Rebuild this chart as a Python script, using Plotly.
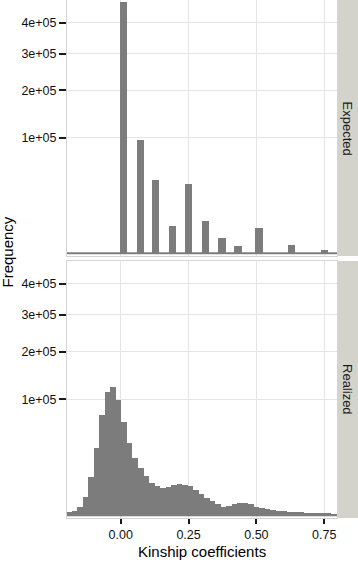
import numpy as np
import plotly.graph_objects as go
from plotly.subplots import make_subplots

# ---- Data ----
expected_x = [0.011, 0.072, 0.129, 0.190, 0.250, 0.312, 0.373, 0.432, 0.510, 0.630, 0.750]
expected_counts = [476000, 96600, 40100, 5490, 36100, 7700, 1760, 401, 4700, 518, 68]

realized_x = [-0.1906, -0.1703, -0.1500, -0.1296, -0.1093, -0.0889, -0.0686, -0.0482,
              -0.0279, -0.0075, 0.0128, 0.0331, 0.0535, 0.0738, 0.0942, 0.1145,
              0.1349, 0.1552, 0.1755, 0.1959, 0.2162, 0.2366, 0.2569, 0.2773,
              0.2976, 0.3179, 0.3383, 0.3586, 0.3790, 0.3993, 0.4197, 0.4400,
              0.4603, 0.4807, 0.5010, 0.5214, 0.5417, 0.5621, 0.5824, 0.6027,
              0.6231, 0.6434, 0.6638, 0.6841, 0.7045, 0.7248, 0.7451, 0.7655, 0.7858]
realized_counts = [55, 120, 520, 2430, 10800, 34000, 75000, 114000,
                   123400, 99000, 64400, 38900, 24400, 16600, 11400, 7900,
                   6300, 5600, 6000, 6900, 7200, 6900, 6200, 4600,
                   3300, 2090, 1430, 870, 540, 680, 870, 1030,
                   1130, 907, 542, 389, 288, 211, 152, 120,
                   92, 67, 59, 51, 43, 33, 27, 22, 19]

panel_labels = ["Expected", "Realized"]
y_tick_values = [100000, 200000, 300000, 400000]
y_tick_labels = ["1e+05", "2e+05", "3e+05", "4e+05"]
x_tick_values = [0.0, 0.25, 0.5, 0.75]
x_tick_labels = ["0.00", "0.25", "0.50", "0.75"]

# ---- Styling ----
BAR = "#7c7c7c"
GRID = "#e4e4e4"
BORDER = "#d4d4d4"
STRIP = "#d3d3cb"
FONT = "Liberation Sans, Arial, Helvetica, sans-serif"
XR = [-0.198, 0.797]
YR = [-7.6, 694.5]  # in sqrt(count) space

fig = make_subplots(rows=2, cols=1, shared_xaxes=True, vertical_spacing=0.0097)

# sqrt-transformed y scale (like ggplot scale_y_sqrt)
fig.add_trace(go.Bar(x=expected_x, y=np.sqrt(expected_counts), width=0.027,
                     marker=dict(color=BAR, line=dict(width=0)),
                     hovertext=[str(c) for c in expected_counts], showlegend=False), row=1, col=1)
fig.add_trace(go.Bar(x=realized_x, y=np.sqrt(realized_counts), width=0.0204,
                     marker=dict(color=BAR, line=dict(width=0)),
                     hovertext=[str(c) for c in realized_counts], showlegend=False), row=2, col=1)

fig.update_layout(bargap=0)

tickvals_sqrt = list(np.sqrt(y_tick_values))
for r in (1, 2):
    fig.update_yaxes(row=r, col=1, range=YR, tickvals=tickvals_sqrt, ticktext=y_tick_labels,
                     ticks="outside", ticklen=7, tickwidth=2, tickcolor="#1a1a1a",
                     showgrid=True, gridcolor=GRID, gridwidth=1, zeroline=False,
                     showline=True, mirror=True, linecolor=BORDER, linewidth=1,
                     tickfont=dict(family=FONT, size=12.5, color="#111111"))
    fig.update_xaxes(row=r, col=1, range=XR, tickvals=x_tick_values, ticktext=x_tick_labels,
                     showgrid=True, gridcolor=GRID, gridwidth=1, zeroline=False,
                     showline=True, mirror=True, linecolor=BORDER, linewidth=1,
                     tickfont=dict(family=FONT, size=12.5, color="#111111"))
fig.update_xaxes(row=1, col=1, ticks="", showticklabels=False)
fig.update_xaxes(row=2, col=1, ticks="outside", ticklen=5, tickwidth=2, tickcolor="#1a1a1a")

# domains
fig.update_layout(
    yaxis=dict(domain=[0.5058, 1.0]),
    yaxis2=dict(domain=[0.0, 0.4961]),
)

# baseline for zero-height bins
for xa, ya in (("x", "y"), ("x2", "y2")):
    fig.add_shape(type="line", xref=xa, yref=ya, x0=XR[0], x1=XR[1], y0=0, y1=0,
                  line=dict(color=BAR, width=2), layer="above")

# facet strips
strip_w = 21 / 270
for (y0, y1), lab in zip(((0.5058, 1.0), (0.0, 0.4961)), panel_labels):
    fig.add_shape(type="rect", xref="paper", yref="paper", x0=1.0, x1=1.0 + strip_w + 0.01,
                  y0=y0, y1=y1, fillcolor=STRIP, line=dict(width=0), layer="below")
    fig.add_annotation(xref="paper", yref="paper", x=1.0 + strip_w / 2, y=(y0 + y1) / 2,
                       text=lab, textangle=90, showarrow=False,
                       font=dict(family=FONT, size=13, color="#1a1a1a"),
                       xanchor="center", yanchor="middle")

# axis titles
fig.add_annotation(xref="paper", yref="paper", x=0, xshift=-60, y=1 - 252.5 / 518,
                   text="Frequency", textangle=-90, showarrow=False,
                   font=dict(family=FONT, size=15, color="#000000"),
                   xanchor="center", yanchor="middle")
fig.add_annotation(xref="paper", yref="paper", x=0.5, y=(518 - 551) / 518,
                   text="Kinship coefficients", showarrow=False,
                   font=dict(family=FONT, size=15, color="#000000"),
                   xanchor="center", yanchor="middle")

fig.update_layout(
    width=358, height=565,
    margin=dict(l=67, r=21, t=0, b=47, pad=0),
    paper_bgcolor="white", plot_bgcolor="white",
    showlegend=False,
)

fig.write_html("out.html", config={"displayModeBar": False},
               post_script="document.body.style.margin='0';document.body.style.padding='0';document.body.style.overflow='hidden';")
